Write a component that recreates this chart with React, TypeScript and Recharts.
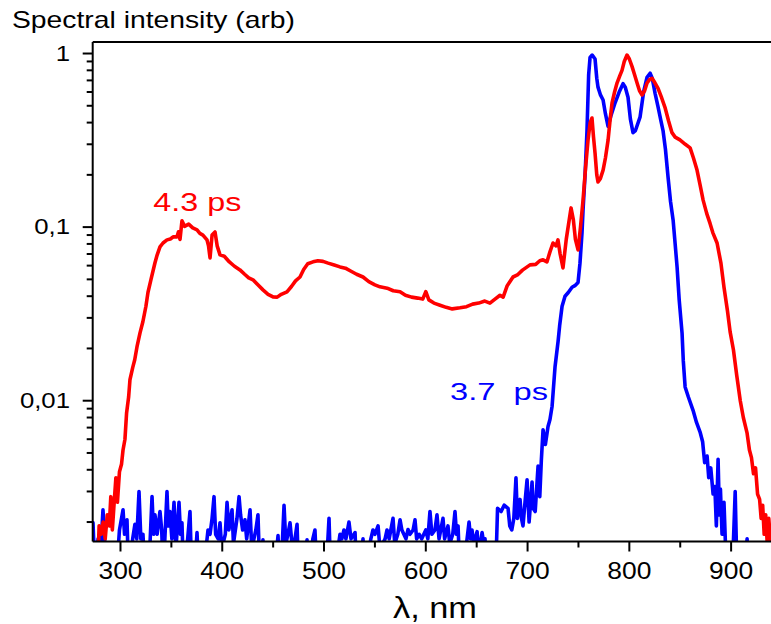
import React from "react";
import { LineChart, Line, XAxis, YAxis, ReferenceLine } from "recharts";

/* axis ranges and ticks (log y axis, nm on x) */
const X_MIN = 272.7;
const X_MAX = 950;
const Y_MIN = 0.001545;
const Y_MAX = 1.165;

const X_TICKS = [300, 350, 400, 450, 500, 550, 600, 650, 700, 750, 800, 850, 900];
const X_LABELS = [300, 400, 500, 600, 700, 800, 900];

const Y_TICKS = [
  0.002, 0.003, 0.004, 0.005, 0.006, 0.007, 0.008, 0.009,
  0.01, 0.02, 0.03, 0.04, 0.05, 0.06, 0.07, 0.08, 0.09,
  0.1, 0.2, 0.3, 0.4, 0.5, 0.6, 0.7, 0.8, 0.9, 1,
];
const Y_LABELS: Record<string, string> = { "1": "1", "0.1": "0,1", "0.01": "0,01" };

/* 4.3 ps spectrum (red) */
const RED_NM = [
  272, 277.9, 279, 281, 283, 285, 287, 289, 290.5, 292, 294, 295.5, 297, 299, 301, 302.5,
  304.4, 306, 308, 309.3, 312, 314, 316.2, 319.2, 322, 325, 327, 330, 333.9, 336, 338.8,
  341.8, 345.7, 349, 352, 355.5, 357, 358.5, 360.4, 363, 367, 371, 375.2, 378, 381, 385,
  386.5, 388, 390, 392.9, 395, 397.8, 402, 407, 412, 417.4, 422, 426, 430.2, 435, 440,
  445, 449.9, 454, 458, 463.6, 468, 472, 476.4, 480, 484, 489.2, 494, 499, 504, 510,
  515.7, 521, 527, 532, 538.3, 544, 550, 555, 562, 568, 574.7, 580, 586, 592, 597, 600,
  603, 608, 614, 620, 626, 633.6, 640, 646, 652, 658, 663, 668, 672.9, 676, 680, 685.7,
  690, 695, 702.4, 708, 712, 715.2, 719, 722, 725, 728, 729.9, 732, 734.8, 738, 742.7,
  745, 747, 749.6, 752, 754.5, 757, 759.4, 761.5, 763.3, 764.8, 766.3, 768, 769.2, 771.5,
  774.2, 776.5, 779.1, 781, 783, 785.5, 787.9, 790.5, 792.8, 795, 797.7, 800, 802.7, 805,
  807.6, 810, 812.5, 815, 817.4, 820, 822.3, 825, 828.2, 831.5, 835, 838.5, 841.9, 845,
  849.7, 855, 859.7, 863, 866.5, 869.5, 872.5, 876, 879.3, 882, 886.2, 890, 893, 896.4,
  899, 902.3, 905.5, 909, 912, 915.7, 918, 920, 922, 924, 926, 928, 929.5, 931, 932.5,
  934, 935.5, 937, 938.5, 940,
];
const RED_I = [
  0.001, 0.0012, 0.0019, 0.0017, 0.002, 0.0016, 0.0022, 0.0019, 0.0028, 0.0018, 0.0027, 0.0036, 0.0026, 0.0039, 0.0043, 0.0052,
  0.006, 0.0085, 0.0105, 0.0132, 0.0155, 0.0172, 0.0204, 0.0246, 0.0285, 0.035, 0.042, 0.05, 0.0623, 0.069, 0.0769,
  0.081, 0.0844, 0.0855, 0.088, 0.0879, 0.094, 0.085, 0.1086, 0.101, 0.104, 0.099, 0.0964, 0.092, 0.09, 0.0844,
  0.078, 0.0665, 0.09, 0.0938, 0.078, 0.0692, 0.068, 0.063, 0.0595, 0.0567, 0.0535, 0.051, 0.0497, 0.0465, 0.0435,
  0.041, 0.0396, 0.0395, 0.041, 0.0424, 0.0455, 0.049, 0.0516, 0.057, 0.0615, 0.0631, 0.064, 0.0635, 0.062, 0.0605,
  0.059, 0.058, 0.0555, 0.0535, 0.0516, 0.0485, 0.0465, 0.0453, 0.0445, 0.043, 0.0424, 0.0405, 0.0395, 0.039, 0.0385, 0.0425,
  0.0381, 0.0365, 0.0355, 0.0345, 0.0338, 0.0343, 0.0348, 0.036, 0.0365, 0.0375, 0.0365, 0.0385, 0.0405, 0.0395, 0.046, 0.0516,
  0.053, 0.0565, 0.0606, 0.061, 0.064, 0.0648, 0.063, 0.072, 0.081, 0.078, 0.0844, 0.07, 0.0582, 0.085, 0.129,
  0.11, 0.085, 0.0739, 0.1, 0.143, 0.22, 0.317, 0.4, 0.425, 0.33, 0.267, 0.2, 0.182, 0.19,
  0.213, 0.25, 0.317, 0.41, 0.519, 0.6, 0.676, 0.74, 0.8, 0.9, 0.98, 0.93, 0.84, 0.76,
  0.676, 0.61, 0.577, 0.61, 0.676, 0.71, 0.72, 0.68, 0.63, 0.56, 0.49, 0.41, 0.35, 0.33,
  0.318, 0.3, 0.286, 0.25, 0.213, 0.175, 0.143, 0.12, 0.105, 0.093, 0.081, 0.062, 0.045, 0.033,
  0.025, 0.0196, 0.014, 0.01, 0.008, 0.0065, 0.0052, 0.0047, 0.0038, 0.0041, 0.0029, 0.0027, 0.0021, 0.0025, 0.0017,
  0.0022, 0.0015, 0.0021, 0.0016, 0.001,
];

/* 3.7 ps spectrum (blue), noise floor drops below the axis */
const BLUE_NM = [
  272, 273, 275, 278, 280, 282.8, 284, 286, 296, 299, 302.5, 304, 306.4, 308, 312, 314.2,
  316, 318.2, 320, 322.1, 324, 329, 331, 332.5, 333.9, 336, 338.8, 340.5, 342, 344, 345.7,
  347, 348.6, 350.5, 352.6, 354.5, 357.5, 359, 360.4, 362, 366, 368.3, 370, 373.5, 375.2,
  377, 384, 386, 388, 390, 391.9, 393.5, 396, 397.8, 399.5, 403, 404.7, 406.5, 409.6, 411,
  414.5, 416.5, 418, 420, 422.3, 424, 427.3, 429, 433, 435.1, 437, 440, 442, 452.5, 454.8,
  456.5, 459, 460.7, 462.5, 464.5, 466.6, 468.5, 471.5, 473.5, 475, 481, 483.3, 485, 489,
  491.1, 493, 503, 504.9, 506.5, 512, 515.7, 517.5, 519.6, 521.5, 524.5, 526.5, 530.5, 532,
  536.5, 538.3, 540, 546, 548.1, 550, 553.1, 555, 560, 561.9, 564, 567.8, 569.5, 572.5,
  574.7, 576.5, 580.5, 582.5, 584.5, 587.5, 589.4, 591, 593.5, 596, 600, 602, 604.1, 606,
  609, 611, 613, 616.9, 618.5, 621.8, 623.5, 626.5, 628.7, 630.2, 631.7, 633.5, 640, 642.5,
  644, 645.4, 647, 650.4, 652, 655.3, 657, 658.2, 660, 669, 670.5, 674, 677, 680.8, 682.5,
  684.5, 686.5, 688.6, 690, 692.6, 694, 695.5, 697.5, 699.5, 701.5, 703, 704.4, 705.4, 707.5,
  710.3, 712, 713.5, 715.2, 717.5, 720.1, 722, 724.1, 727, 730, 731.5, 733.9, 736.8, 740,
  743.7, 746.5, 749.6, 751.5, 753.5, 754.5, 756.5, 758.4, 760, 761.4, 763.5, 766.3, 768,
  769.2, 771.5, 774.2, 776.5, 779.1, 782, 786, 790, 793.8, 796, 798.7, 801, 803.6, 806,
  810.5, 814, 817.4, 820.4, 822.5, 825.3, 828, 831, 833.1, 835.5, 838, 840.5, 843, 845,
  846.9, 849, 851.8, 853, 854.8, 858, 862.6, 866, 869.5, 872, 874, 876.4, 878, 880, 882.3,
  884, 885.5, 887.2, 888.5, 889.5, 891.1, 893, 895, 899, 902, 904, 905.5, 907, 914, 915.7, 917,
];
const BLUE_I = [
  0.0019, 0.00198, 0.001, 0.0016, 0.0012, 0.00235, 0.0018, 0.001, 0.001, 0.0018, 0.00235, 0.0017, 0.00206, 0.001, 0.0016, 0.00194,
  0.0016, 0.003, 0.0016, 0.0017, 0.001, 0.0015, 0.0028, 0.0017, 0.0022, 0.0017, 0.0023, 0.0018, 0.001, 0.0018, 0.003,
  0.0019, 0.0023, 0.0016, 0.0026, 0.0014, 0.0026, 0.0017, 0.00198, 0.001, 0.0016, 0.0023, 0.001, 0.0012, 0.00174,
  0.001, 0.0014, 0.0018, 0.0017, 0.0021, 0.0028, 0.0017, 0.0016, 0.00198, 0.0014, 0.0017, 0.0026, 0.0018, 0.00235, 0.0015,
  0.0021, 0.0028, 0.0022, 0.0018, 0.00206, 0.0016, 0.00235, 0.0014, 0.0018, 0.0022, 0.001, 0.00158, 0.001, 0.0012, 0.00167,
  0.001, 0.0015, 0.0025, 0.0015, 0.0017, 0.00198, 0.0015, 0.0016, 0.00194, 0.001, 0.0011, 0.00158, 0.001, 0.0016,
  0.0018, 0.001, 0.0013, 0.0021, 0.001, 0.0012, 0.0017, 0.0016, 0.0018, 0.0016, 0.002, 0.0016, 0.00174, 0.001,
  0.0012, 0.0016, 0.001, 0.0016, 0.0018, 0.0017, 0.0019, 0.0014, 0.0016, 0.0018, 0.0016, 0.0021, 0.0015, 0.0017,
  0.00206, 0.0018, 0.0016, 0.00181, 0.0017, 0.0018, 0.00206, 0.0016, 0.0017, 0.0016, 0.0018, 0.0016, 0.0023, 0.0017,
  0.0018, 0.0022, 0.0016, 0.0021, 0.0016, 0.0019, 0.0015, 0.0017, 0.0023, 0.0017, 0.0019, 0.001, 0.0015, 0.002,
  0.0016, 0.0018, 0.0015, 0.00176, 0.0013, 0.00174, 0.0015, 0.0016, 0.001, 0.0012, 0.0024, 0.0023, 0.0025, 0.0024, 0.0019,
  0.0018, 0.0021, 0.0036, 0.0021, 0.0027, 0.0021, 0.0019, 0.0026, 0.0035, 0.002, 0.0026, 0.0034, 0.0024, 0.0023,
  0.0042, 0.0028, 0.0045, 0.0068, 0.0056, 0.0071, 0.0078, 0.0093, 0.0157, 0.022, 0.027, 0.035, 0.04, 0.042,
  0.045, 0.046, 0.048, 0.062, 0.093, 0.125, 0.2, 0.36, 0.75, 0.95, 0.98, 0.93, 0.72,
  0.64, 0.58, 0.54, 0.45, 0.38, 0.44, 0.52, 0.6, 0.67, 0.64, 0.56, 0.42, 0.35, 0.36,
  0.43, 0.6, 0.73, 0.77, 0.72, 0.59, 0.5, 0.41, 0.36, 0.28, 0.195, 0.14, 0.11, 0.08,
  0.059, 0.038, 0.0245, 0.017, 0.012, 0.0105, 0.0088, 0.0075, 0.0066, 0.0058, 0.0044, 0.0048, 0.0036, 0.0041, 0.0029,
  0.0032, 0.0019, 0.0046, 0.0022, 0.0031, 0.0017, 0.0026, 0.0012, 0.001, 0.0014, 0.003, 0.0012, 0.001, 0.0012, 0.0016, 0.001,
];

const redData = RED_NM.map((nm, i) => ({ nm, v: RED_I[i] }));
const blueData = BLUE_NM.map((nm, i) => ({ nm, v: BLUE_I[i] }));

const FONT = "'Liberation Sans', Arial, sans-serif";

function XTick(props: any) {
  const { x, y, payload } = props;
  const major = X_LABELS.includes(payload.value);
  return (
    <g>
      <line x1={x} x2={x} y1={y} y2={y + (major ? 10 : 6)} stroke="#000" strokeWidth={2} />
      {major && (
        <text
          transform={`translate(${x},${y + 37.5}) scale(1.1,1)`}
          textAnchor="middle"
          fontSize={24}
          fontFamily={FONT}
          fill="#000"
        >
          {payload.value}
        </text>
      )}
    </g>
  );
}

function YTick(props: any) {
  const { x, y, payload } = props;
  const label = Y_LABELS[String(payload.value)];
  return (
    <g>
      <line x1={x - (label ? 10 : 6)} x2={x} y1={y} y2={y} stroke="#000" strokeWidth={2} />
      {label && (
        <text
          transform={`translate(${x - 22.7},${y + 7}) scale(1.12,1)`}
          textAnchor="end"
          fontSize={23}
          fontFamily={FONT}
          fill="#000"
        >
          {label}
        </text>
      )}
    </g>
  );
}

export default function App() {
  return (
    <div style={{ position: "absolute", left: 0, top: 0, width: 771, height: 624, overflow: "hidden", background: "#fff" }}>
      <LineChart width={800} height={624} margin={{ top: 42, right: 18, left: 0, bottom: 0 }}>
        <XAxis
          type="number"
          dataKey="nm"
          domain={[X_MIN, X_MAX]}
          allowDataOverflow
          ticks={X_TICKS}
          interval={0}
          height={82.5}
          tickSize={0}
          tickMargin={0}
          tickLine={false}
          axisLine={{ stroke: "#000", strokeWidth: 2 }}
          tick={(p: any) => <XTick {...p} />}
        />
        <YAxis
          type="number"
          scale="log"
          domain={[Y_MIN, Y_MAX]}
          allowDataOverflow
          ticks={Y_TICKS}
          interval={0}
          width={92.7}
          tickSize={0}
          tickMargin={0}
          tickLine={false}
          axisLine={{ stroke: "#000", strokeWidth: 2 }}
          tick={(p: any) => <YTick {...p} />}
        />
        <ReferenceLine y={Y_MAX} stroke="#000" strokeWidth={2} />
        <Line
          data={blueData}
          dataKey="v"
          type="linear"
          stroke="#0000ff"
          strokeWidth={3.6}
          strokeLinejoin="round"
          dot={false}
          isAnimationActive={false}
        />
        <Line
          data={redData}
          dataKey="v"
          type="linear"
          stroke="#ff0000"
          strokeWidth={3.6}
          strokeLinejoin="round"
          dot={false}
          isAnimationActive={false}
        />
      </LineChart>

      {/* titles and curve labels */}
      <svg width={771} height={624} style={{ position: "absolute", left: 0, top: 0, pointerEvents: "none" }}>
        <text x={12} y={27.7} fontSize={24} fontFamily={FONT} fill="#000" textLength={283} lengthAdjust="spacingAndGlyphs">
          Spectral intensity (arb)
        </text>
        <text x={153.3} y={211} fontSize={25} fontFamily={FONT} fill="#ff0000" textLength={88} lengthAdjust="spacingAndGlyphs">
          4.3 ps
        </text>
        <text x={450} y={400} fontSize={23} fontFamily={FONT} fill="#0000ff" textLength={98} lengthAdjust="spacingAndGlyphs" style={{ whiteSpace: "pre" }}>
          3.7  ps
        </text>
        <text x={393} y={618} fontSize={30} fontFamily={FONT} fill="#000" textLength={84} lengthAdjust="spacingAndGlyphs">
          λ, nm
        </text>
      </svg>
    </div>
  );
}
